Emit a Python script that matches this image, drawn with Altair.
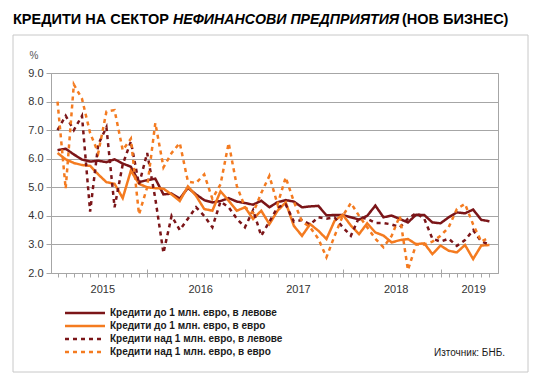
import altair as alt
import pandas as pd

title_parts = ["КРЕДИТИ НА СЕКТОР", "НЕФИНАНСОВИ ПРЕДПРИЯТИЯ", "(НОВ БИЗНЕС)"]
series_names = [
    "Кредити до 1 млн. евро, в левове",
    "Кредити до 1 млн. евро, в евро",
    "Кредити над 1 млн. евро, в левове",
    "Кредити над 1 млн. евро, в евро",
]
years = ["2015", "2016", "2017", "2018", "2019"]
source_note = "Източник: БНБ."
y_unit = "%"

# monthly observations, Jan 2015 - Jun 2019
months = [f"{2015 + k // 12}-{k % 12 + 1:02d}" for k in range(54)]

lev_small = [6.30, 6.35, 6.15, 5.97, 5.90, 5.93, 5.88, 5.98, 5.83, 5.72,
             5.18, 5.25, 5.30, 4.75, 4.78, 4.60, 4.98, 4.75, 4.55, 4.47,
             4.52, 4.62, 4.50, 4.45, 4.39, 4.53, 4.30, 4.48, 4.55, 4.50,
             4.30, 4.33, 4.35, 4.02, 4.03, 4.03, 3.95, 3.87, 4.00, 4.36,
             3.95, 4.01, 3.89, 3.77, 4.04, 4.03, 3.77, 3.74, 3.95, 4.12,
             4.09, 4.22, 3.86, 3.81]
eur_small = [6.20, 5.98, 5.85, 5.78, 5.75, 5.45, 5.18, 5.12, 4.62, 5.58,
             5.12, 5.00, 4.97, 4.95, 4.75, 4.52, 5.03, 4.70, 4.24, 4.18,
             4.86, 4.53, 4.18, 4.30, 3.89, 4.18, 3.71, 4.18, 4.47, 3.65,
             3.30, 3.71, 3.48, 3.19, 3.83, 4.04, 3.66, 3.36, 3.74, 3.42,
             3.31, 3.07, 3.15, 3.19, 3.01, 3.04, 2.66, 2.96, 2.78, 2.72,
             2.98, 2.49, 2.96, 2.98]
lev_large = [7.00, 7.50, 7.00, 7.50, 4.15, 6.50, 7.10, 4.30, 5.80, 6.60,
             5.10, 6.20, 4.60, 2.70, 4.00, 3.50, 3.90, 4.30, 4.00, 3.60,
             4.50, 4.30, 3.90, 3.60, 4.20, 3.30, 3.80, 4.30, 4.40, 3.80,
             3.85, 3.70, 3.95, 3.90, 3.95, 3.60, 3.30, 3.95, 3.90, 3.75,
             3.75, 3.70, 3.60, 3.90, 4.10, 3.90, 3.20, 3.10, 3.20, 2.95,
             3.15, 3.50, 3.10, 3.00]
eur_large = [8.00, 4.95, 8.60, 8.10, 6.90, 6.20, 7.65, 7.70, 6.30, 6.70,
             4.05, 5.00, 7.25, 5.70, 6.20, 6.55, 5.20, 5.15, 5.45, 4.60,
             5.10, 6.55, 5.05, 4.30, 4.10, 4.80, 5.40, 4.40, 5.35, 4.50,
             3.80, 3.60, 3.20, 2.55, 3.30, 4.00, 4.45, 4.00, 3.60, 3.20,
             2.90, 3.30, 4.00, 2.10, 3.00, 3.00, 3.10, 3.30, 3.60, 4.24,
             4.42, 3.70, 3.10, 3.25]

colors = ["#7b1518", "#f47b20", "#7b1518", "#f47b20"]
dashes = [[1, 0], [1, 0], [4, 4], [4, 4]]

rows = []
for name, vals in zip(series_names, [lev_small, eur_small, lev_large, eur_large]):
    for i, (m, v) in enumerate(zip(months, vals)):
        rows.append({"idx": i, "month": m, "value": v, "series": name})
df = pd.DataFrame(rows)

FONT = "Liberation Sans"
GRAY = "#a6a6a6"

xscale = alt.Scale(domain=[-0.8, 54.05], nice=False, zero=False)
yscale = alt.Scale(domain=[2, 9], nice=False, zero=False)

legend = alt.Legend(
    title=None, orient="none", legendX=29, legendY=235,
    symbolType="M-8,0H8", symbolSize=25, symbolStrokeWidth=2.5,
    labelFont=FONT, labelFontSize=10, labelFontWeight="bold", labelColor="#1a1a1a",
    labelOffset=20, rowPadding=3, padding=0, labelLimit=400,
)

lines = alt.Chart(df).mark_line(strokeWidth=2.5).encode(
    x=alt.X("idx:Q", scale=xscale,
            axis=alt.Axis(orient="bottom", values=list(range(54)), labels=False, tickSize=4,
                          tickColor=GRAY, domainColor=GRAY, grid=False, title=None)),
    y=alt.Y("value:Q", scale=yscale,
            axis=alt.Axis(values=[2, 3, 4, 5, 6, 7, 8, 9], format=".1f", grid=True,
                          gridColor=GRAY, tickColor=GRAY, domainColor=GRAY, tickSize=5,
                          labelPadding=3, labelFont=FONT, labelFontSize=11,
                          labelColor="#333333",
                          title=y_unit, titleAngle=0, titleX=-22, titleY=-15,
                          titleAlign="left", titleBaseline="alphabetic",
                          titleFont=FONT, titleFontSize=10, titleFontWeight="normal",
                          titleColor="#555555")),
    color=alt.Color("series:N", scale=alt.Scale(domain=series_names, range=colors),
                    legend=legend),
    strokeDash=alt.StrokeDash("series:N",
                              scale=alt.Scale(domain=series_names, range=dashes),
                              legend=legend),
    order=alt.Order("idx:Q"),
)

major = alt.Chart(df).mark_point(opacity=0).encode(
    x=alt.X("idx:Q", scale=xscale,
            axis=alt.Axis(orient="bottom", values=[11, 23, 35, 47], labels=False,
                          tickSize=7, offset=-4, domain=False, tickColor=GRAY,
                          grid=False, title=None)),
    y=alt.value(0),
)

label_pos = [5.5, 17.5, 29.5, 41.5, 51]
year_expr = "[" + ",".join(f"'{y}'" for y in years) + "][indexof([" + \
    ",".join(str(p) for p in label_pos) + "], datum.value)]"
yearlab = alt.Chart(df).mark_point(opacity=0).encode(
    x=alt.X("idx:Q", scale=xscale,
            axis=alt.Axis(orient="bottom", values=label_pos, labelExpr=year_expr,
                          ticks=False, domain=False, grid=False, title=None,
                          labelPadding=10, labelFlush=False, labelOverlap=False,
                          labelFont=FONT, labelFontSize=11, labelColor="#333333")),
    y=alt.value(0),
)


def text_layer(txt, x, y, size, weight="normal", style="normal", align="left", color="#000000"):
    return alt.Chart(pd.DataFrame({"t": [txt]})).mark_text(
        align=align, baseline="alphabetic", font=FONT, fontSize=size,
        fontWeight=weight, fontStyle=style, color=color,
    ).encode(text="t:N", x=alt.value(x), y=alt.value(y))


t1 = text_layer(title_parts[0], -38, -49, 14.5, "bold")
t2 = text_layer(title_parts[1], 122, -49, 14.2, "bold", "italic")
t3 = text_layer(title_parts[2], 351, -49, 14.5, "bold")
src = text_layer(source_note, 454, 283, 10, align="right", color="#1a1a1a")

border = alt.Chart(pd.DataFrame({"t": [0]})).mark_rect(
    fillOpacity=0, stroke="#c8c8c8", strokeWidth=1
).encode(x=alt.value(-38), x2=alt.value(477), y=alt.value(-38), y2=alt.value(299))

chart = alt.layer(border, lines, major, yearlab, t1, t2, t3, src).resolve_axis(
    x="independent"
).properties(
    width=447, height=200,
    autosize=alt.AutoSizeParams(type="none"),
    padding={"left": 43, "top": 65, "right": 31, "bottom": 100},
    background="white",
).configure_view(stroke=GRAY, strokeWidth=1)

chart.save("out.html", embed_options={"renderer": "svg", "actions": False})
